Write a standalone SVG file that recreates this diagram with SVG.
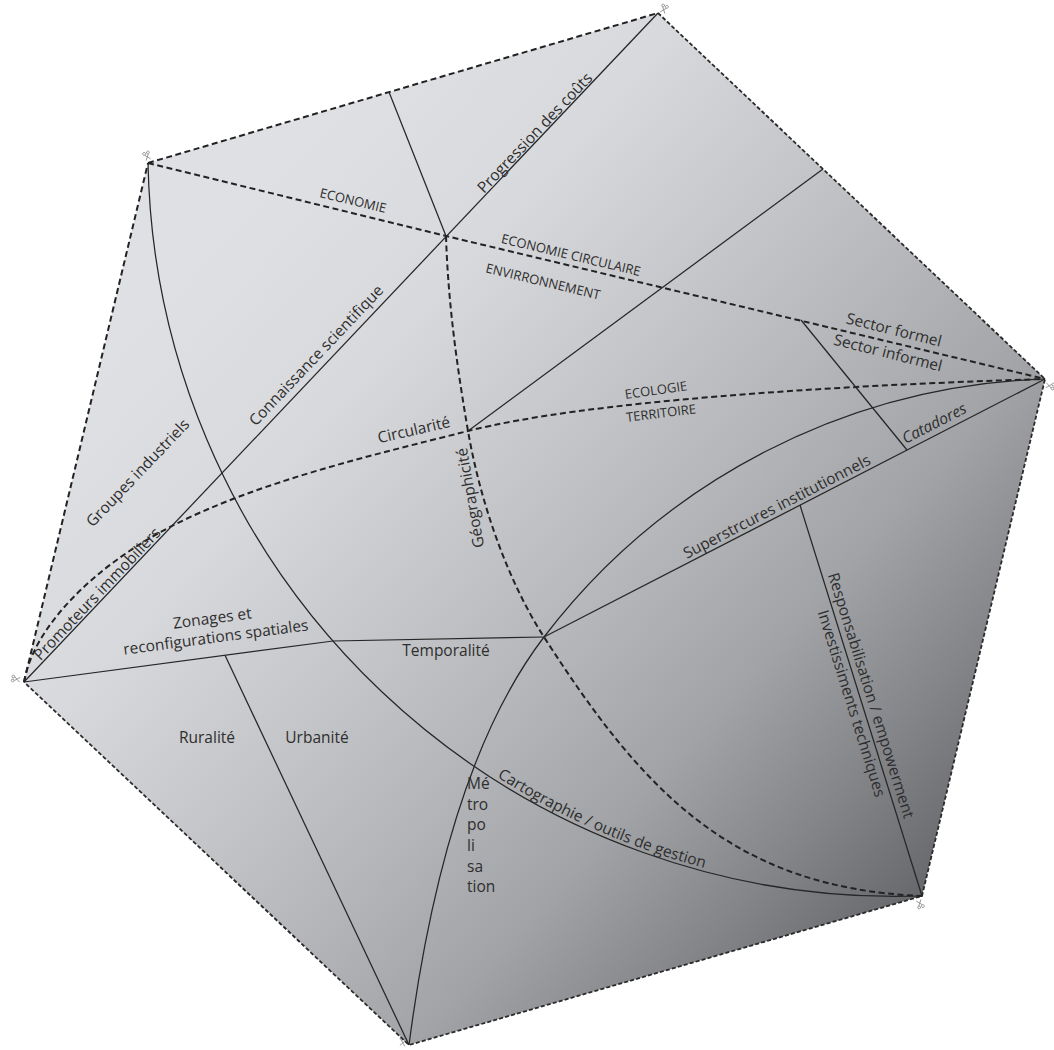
<svg xmlns="http://www.w3.org/2000/svg" width="1054" height="1050" viewBox="0 0 1054 1050">
<defs>
<linearGradient id="bg" gradientUnits="userSpaceOnUse" x1="250" y1="200" x2="980" y2="860">
<stop offset="0" stop-color="#dfe0e3"/>
<stop offset="0.2" stop-color="#d8d9dc"/>
<stop offset="0.4" stop-color="#c4c5c8"/>
<stop offset="0.55" stop-color="#b4b5b8"/>
<stop offset="0.7" stop-color="#a1a3a6"/>
<stop offset="0.85" stop-color="#838588"/>
<stop offset="1" stop-color="#626467"/>
</linearGradient>
<path id="cartoPath" d="M 469.3 758.5 A 744 744 0 0 0 831.2 890.2"/>
<g id="scissor">
<circle cx="-2" cy="-3" r="1.4"/>
<circle cx="2" cy="-3" r="1.4"/>
<path d="M-2 -1.6 L2.5 4 M2 -1.6 L-2.5 4"/>
</g>
<style>
.edge-big{fill:none;stroke:#222;stroke-width:2;stroke-dasharray:6 3.5}
.edge-small{fill:none;stroke:#2a2a2a;stroke-width:1.8;stroke-dasharray:4 2.2}
.dash{fill:none;stroke:#222;stroke-width:2;stroke-dasharray:6 3.5}
.solid{fill:none;stroke:#262626;stroke-width:1.25}
.lbl{font-family:"Open Sans","Noto Sans","Liberation Sans",sans-serif;font-size:15.5px;fill:#2e2e2e;text-anchor:middle}
.cap{font-size:13px}
.it{font-style:italic}
.st{text-anchor:start}
.mark{fill:none;stroke:#8a8a8a;stroke-width:0.8}
</style>
</defs>

<g id="outline">
<polygon points="658,13 1045,379 922,896 409,1045 24,682 148,163" fill="url(#bg)"/>
</g>

<g id="vertex-marks" class="mark">
<use href="#scissor" transform="translate(664,9) rotate(20)"/>
<use href="#scissor" transform="translate(147,156) rotate(-20)"/>
<use href="#scissor" transform="translate(16,679) rotate(-80)"/>
<use href="#scissor" transform="translate(403,1042) rotate(10)"/>
<use href="#scissor" transform="translate(920,904) rotate(160)"/>
<use href="#scissor" transform="translate(1050,386) rotate(100)"/>
</g>

<g id="connectors">
<path class="edge-big" d="M148 163 L658 13"/>
<path class="edge-small" d="M658 13 L1045 379 L922 896 L409 1045 L24 682"/>
<path class="edge-big" d="M24 682 L148 163"/>
<path id="economie-line" class="dash" d="M148 163 L446 236 L1045 379"/>
<path id="ecologie-curve" class="dash" d="M24 682 C34 625 96 566 168 528 C256.7 481.8 371 455.5 468 431 C584.4 401.6 825.2 385.6 1045 379"/>
<path id="geographicite-curve" class="dash" d="M446 236 C448 302 457 367 468 431 C480 500 506 578 544 637 C641 788 730 888 922 896"/>
<path id="tl-line" class="solid" d="M658 13 L24 682"/>
<path id="eco-divider" class="solid" d="M389 92 L446 236"/>
<path id="qc-line" class="solid" d="M823 169 L468 431"/>
<path id="carto-arc" class="solid" d="M148 163 A748 748 0 0 0 922 896"/>
<path id="temporalite-line" class="solid" d="M24 682 L333 641 L544 637"/>
<path id="rural-divider" class="solid" d="M225 655.3 L409 1045"/>
<path id="metro-arc" class="solid" d="M409 1045 C423.2 935.9 455.6 752.8 544 637 A657 657 0 0 1 1045 379"/>
<path id="super-line" class="solid" d="M544 637 L1045 379"/>
<path id="sector-divider" class="solid" d="M801 320 L907 450"/>
<path id="resp-divider" class="solid" d="M800 505 L922 896"/>
</g>

<g id="labels">
<text id="t-economie" class="lbl cap" transform="translate(352,205) rotate(13.5)">ECONOMIE</text>
<text id="t-ecocirc" class="lbl cap" transform="translate(570,259.5) rotate(13.5)">ECONOMIE CIRCULAIRE</text>
<text id="t-env" class="lbl cap" transform="translate(542,286) rotate(13.5)">ENVIRRONNEMENT</text>
<text id="t-progression" class="lbl" transform="translate(538.6,136.4) rotate(-46.5)">Progression des coûts</text>
<text id="t-connaissance" class="lbl" transform="translate(320,359) rotate(-46.5)">Connaissance scientifique</text>
<text id="t-groupes" class="lbl" transform="translate(141.6,476.5) rotate(-46.5)">Groupes industriels</text>
<text id="t-promoteurs" class="lbl" transform="translate(101,597.5) rotate(-46.5)">Promoteurs immobiliers</text>
<text id="t-circularite" class="lbl" transform="translate(415,435) rotate(-13)">Circularité</text>
<text id="t-geographicite" class="lbl" transform="translate(475.5,497) rotate(-100)">Géographicité</text>
<text id="t-ecologie" class="lbl cap" transform="translate(656.6,394.6) rotate(-8)">ECOLOGIE</text>
<text id="t-territoire" class="lbl cap" transform="translate(661.6,417.6) rotate(-7)">TERRITOIRE</text>
<text id="t-formel" class="lbl" transform="translate(892.7,335) rotate(14)">Sector formel</text>
<text id="t-informel" class="lbl" transform="translate(886.7,358) rotate(14)">Sector informel</text>
<text id="t-catadores" class="lbl it" transform="translate(936.7,428) rotate(-27.25)">Catadores</text>
<text id="t-super" class="lbl" transform="translate(779.2,511.3) rotate(-27.25)">Superstrcures institutionnels</text>
<text id="t-resp" class="lbl" transform="translate(866,697) rotate(72.67)">Responsabilisation / empowerment</text>
<text id="t-invest" class="lbl" transform="translate(846.5,705) rotate(72.67)">Investissiments techniques</text>
<text id="t-zonages1" class="lbl" transform="translate(213,623.5) rotate(-7.6)">Zonages et</text>
<text id="t-zonages2" class="lbl" transform="translate(216.5,642.5) rotate(-7.6)">reconfigurations spatiales</text>
<text id="t-temporalite" class="lbl" x="446" y="656">Temporalité</text>
<text id="t-ruralite" class="lbl" x="207" y="743">Ruralité</text>
<text id="t-urbanite" class="lbl" x="317" y="743">Urbanité</text>
<text id="t-metro" class="lbl st"><tspan x="467" y="789">Mé</tspan><tspan x="467" y="809.7">tro</tspan><tspan x="467" y="830.4">po</tspan><tspan x="467" y="851">li</tspan><tspan x="467" y="871.7">sa</tspan><tspan x="467" y="892.4">tion</tspan></text>
<text id="t-carto" class="lbl"><textPath href="#cartoPath" startOffset="147">Cartographie / outils de gestion</textPath></text>
</g>
</svg>
